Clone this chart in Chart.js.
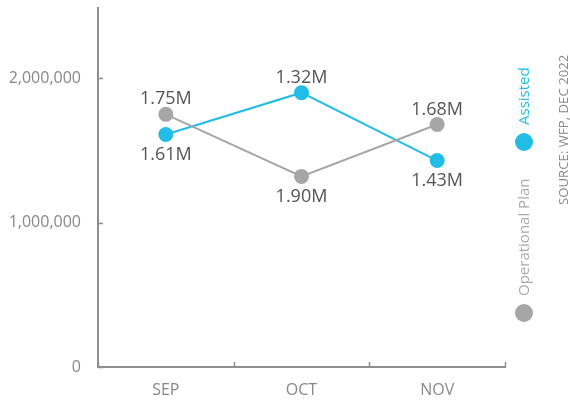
<!DOCTYPE html>
<html>
<head>
<meta charset="utf-8">
<script src="https://cdn.jsdelivr.net/npm/chart.js@4"></script>
<style>
    html, body { margin: 0; padding: 0; background: #fff; }
    #wrap { width: 570px; height: 403px; position: relative; }
</style>
</head>
<body>
<div id="wrap"><canvas id="chart"></canvas></div>
<script>
const months = ['SEP', 'OCT', 'NOV'];
const assisted = [1610000, 1900000, 1430000];
const operationalPlan = [1750000, 1320000, 1680000];
// labels as printed on the chart
const assistedLabels = ['1.61M', '1.32M', '1.43M'];
const operationalLabels = ['1.75M', '1.90M', '1.68M'];
const assistedLabelSide = ['below', 'above', 'below'];
const operationalLabelSide = ['above', 'below', 'above'];
const yTicks = [0, 1000000, 2000000];

const blue = '#22bde6';
const grey = '#a6a6a6';
const axisGrey = '#8f8f8f';
const font = "'Open Sans', sans-serif";

// Small inward tick marks on both axes
const tickMarks = {
    id: 'tickMarks',
    afterDraw(chart) {
        const ctx = chart.ctx;
        const x = chart.scales.x;
        const y = chart.scales.y;
        ctx.save();
        ctx.strokeStyle = axisGrey;
        ctx.lineWidth = 1.5;
        yTicks.forEach(v => {
            const py = Math.round(y.getPixelForValue(v)) + 0.5;
            ctx.beginPath();
            ctx.moveTo(x.left, py);
            ctx.lineTo(x.left + 5, py);
            ctx.stroke();
        });
        const half = (x.getPixelForValue(1) - x.getPixelForValue(0)) / 2;
        for (let i = 0; i <= months.length; i++) {
            const px = Math.round(x.getPixelForValue(i) - half) + 0.5;
            ctx.beginPath();
            ctx.moveTo(px, y.bottom);
            ctx.lineTo(px, y.bottom - 5);
            ctx.stroke();
        }
        ctx.restore();
    }
};

// Value labels above / below points
const valueLabels = {
    id: 'valueLabels',
    afterDatasetsDraw(chart) {
        const ctx = chart.ctx;
        ctx.save();
        ctx.font = '18px ' + font;
        ctx.fillStyle = '#555';
        ctx.textAlign = 'center';
        ctx.textBaseline = 'middle';
        chart.data.datasets.forEach((ds, di) => {
            const meta = chart.getDatasetMeta(di);
            meta.data.forEach((pt, i) => {
                const off = ds.labelSide[i] === 'above' ? -15 : 20;
                ctx.fillText(ds.valueText[i], pt.x, pt.y + off);
            });
        });
        ctx.restore();
    }
};

// Vertical legend and source note at the right
const sideLegend = {
    id: 'sideLegend',
    afterDraw(chart) {
        const ctx = chart.ctx;
        ctx.save();
        const lx = 524;
        const items = [
            { text: 'Assisted', color: blue, cy: 142 },
            { text: 'Operational Plan', color: grey, cy: 313 }
        ];
        items.forEach(it => {
            ctx.fillStyle = it.color;
            ctx.beginPath();
            ctx.arc(lx, it.cy, 9, 0, Math.PI * 2);
            ctx.fill();
            ctx.save();
            ctx.translate(lx, it.cy - 17);
            ctx.rotate(-Math.PI / 2);
            ctx.font = '15px ' + font;
            ctx.textAlign = 'left';
            ctx.textBaseline = 'middle';
            ctx.fillStyle = it.color === blue ? blue : '#aaa';
            ctx.fillText(it.text, 0, 1);
            ctx.restore();
        });
        ctx.save();
        ctx.translate(564, 205);
        ctx.rotate(-Math.PI / 2);
        ctx.font = '13.2px ' + font;
        ctx.textAlign = 'left';
        ctx.textBaseline = 'middle';
        ctx.fillStyle = '#8a8a8a';
        ctx.fillText('SOURCE: WFP, DEC 2022', 0, 0);
        ctx.restore();
        ctx.restore();
    }
};

new Chart(document.getElementById('chart'), {
    type: 'line',
    data: {
        labels: months,
        datasets: [
            {
                label: 'Operational Plan',
                data: operationalPlan,
                valueText: operationalLabels,
                labelSide: operationalLabelSide,
                borderColor: grey,
                backgroundColor: grey,
                borderWidth: 2,
                pointRadius: 7.5,
                pointHoverRadius: 7.5,
                pointBorderWidth: 0,
                tension: 0
            },
            {
                label: 'Assisted',
                data: assisted,
                valueText: assistedLabels,
                labelSide: assistedLabelSide,
                borderColor: blue,
                backgroundColor: blue,
                borderWidth: 2,
                pointRadius: 7.5,
                pointHoverRadius: 7.5,
                pointBorderWidth: 0,
                tension: 0
            }
        ]
    },
    options: {
        responsive: true,
        maintainAspectRatio: false,
        animation: false,
        events: [],
        layout: { padding: { top: 7, right: 65, left: 0, bottom: 0 } },
        plugins: {
            legend: { display: false },
            tooltip: { enabled: false }
        },
        scales: {
            x: {
                offset: true,
                grid: { display: false, drawTicks: false },
                border: { display: true, color: axisGrey, width: 2 },
                afterFit(scale) {
                    scale.height = 36;
                    scale.paddingLeft = 0;
                    scale.paddingRight = 0;
                },
                ticks: {
                    color: '#888',
                    font: { family: font, size: 16 },
                    padding: 14
                }
            },
            y: {
                min: 0,
                max: 2490000,
                grid: { display: false, drawTicks: false },
                border: { display: true, color: axisGrey, width: 2 },
                afterBuildTicks(scale) {
                    scale.ticks = yTicks.map(v => ({ value: v }));
                },
                afterFit(scale) {
                    scale.width = 98;
                    scale.paddingTop = 0;
                    scale.paddingBottom = 0;
                },
                ticks: {
                    color: '#888',
                    font: { family: font, size: 16 },
                    padding: 17,
                    callback: v => v.toLocaleString('en-US')
                }
            }
        }
    },
    plugins: [tickMarks, valueLabels, sideLegend]
});
</script>
</body>
</html>
